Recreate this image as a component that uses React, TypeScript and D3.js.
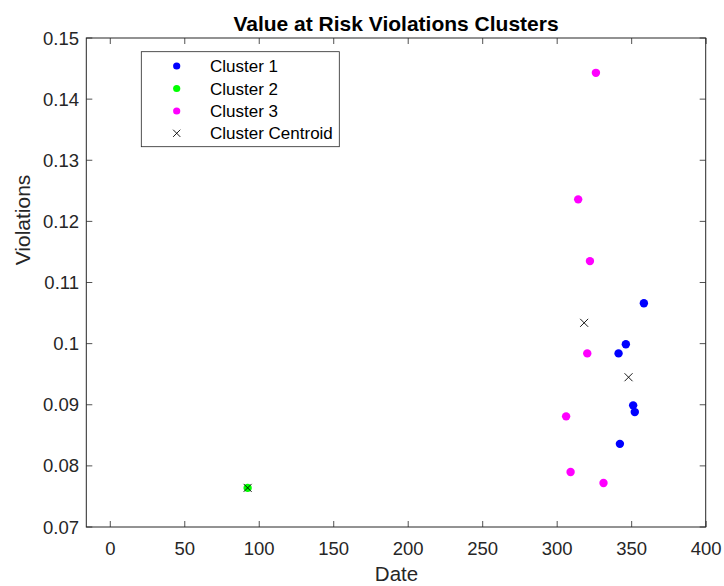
import React from "react";
import * as d3 from "d3";

const cluster1X = [358.2, 346.1, 341.2, 351.0, 352.1, 342.1];
const cluster1Y = [0.1066, 0.0999, 0.0984, 0.0899, 0.0888, 0.0836];
const cluster2X = [92.2];
const cluster2Y = [0.0764];
const cluster3X = [326.0, 314.1, 322.0, 320.2, 306.0, 309.0, 331.1];
const cluster3Y = [0.1443, 0.1236, 0.1135, 0.0984, 0.0881, 0.0790, 0.0772];
const centroidX = [318.1, 347.9, 92.2];
const centroidY = [0.1034, 0.0945, 0.0764];

const xTicks = [0, 50, 100, 150, 200, 250, 300, 350, 400];
const yTicks = [0.07, 0.08, 0.09, 0.1, 0.11, 0.12, 0.13, 0.14, 0.15];
const legendLabels = ["Cluster 1", "Cluster 2", "Cluster 3", "Cluster Centroid"];
const clusterColors = ["#0000ff", "#00ff00", "#ff00ff"];

const W = 724;
const H = 586;
const L = 86.3, R = 705.7, T = 38, B = 527;
const FONT = "'Liberation Sans', Arial, Helvetica, sans-serif";
const AX = "#262626";

export default function App() {
  const x = d3.scaleLinear().domain([-16.1, 399.7]).range([L, R]);
  const y = d3.scaleLinear().domain([0.07, 0.15]).range([B, T]);
  const clusters = [
    { xs: cluster1X, ys: cluster1Y },
    { xs: cluster2X, ys: cluster2Y },
    { xs: cluster3X, ys: cluster3Y },
  ];
  const fmt = (v: number) => String(+v.toFixed(2));
  const tk = 6;
  const cross = (cx: number, cy: number, s: number, key: string) => (
    <path key={key} d={`M${cx - s},${cy - s}L${cx + s},${cy + s}M${cx - s},${cy + s}L${cx + s},${cy - s}`} stroke="#000" strokeWidth={0.9} fill="none" />
  );
  const lx = 141.3, ly = 51.7, lw = 198, lh = 95;
  const rowY = [66, 88.5, 111, 133.3];
  return (
    <svg width={W} height={H} style={{ position: "absolute", left: 0, top: 0, background: "#fff" }} fontFamily={FONT}>
      <rect x={0} y={0} width={W} height={H} fill="#fff" />
      {xTicks.map((t) => (
        <g key={"xt" + t}>
          <line x1={x(t)} x2={x(t)} y1={B} y2={B - tk} stroke={AX} strokeWidth={0.8} />
          <line x1={x(t)} x2={x(t)} y1={T} y2={T + tk} stroke={AX} strokeWidth={0.8} />
          <text x={x(t)} y={555} textAnchor="middle" fontSize={18.5} fill={AX}>{t}</text>
        </g>
      ))}
      {yTicks.map((t) => (
        <g key={"yt" + t}>
          <line x1={L} x2={L + tk} y1={y(t)} y2={y(t)} stroke={AX} strokeWidth={0.8} />
          <line x1={R} x2={R - tk} y1={y(t)} y2={y(t)} stroke={AX} strokeWidth={0.8} />
          <text x={79} y={y(t) + 6.6} textAnchor="end" fontSize={18.5} fill={AX}>{fmt(t)}</text>
        </g>
      ))}
      <rect x={L} y={T} width={R - L} height={B - T} fill="none" stroke={AX} strokeWidth={1} />
      {clusters.map((c, i) =>
        c.xs.map((xv, j) => (
          <circle key={`c${i}-${j}`} cx={x(xv)} cy={y(c.ys[j])} r={4.2} fill={clusterColors[i]} />
        ))
      )}
      {centroidX.map((xv, j) => cross(x(xv), y(centroidY[j]), 4, "cen" + j))}
      <text x={(L + R) / 2} y={31} textAnchor="middle" fontSize={21} fontWeight="bold" fill="#000">Value at Risk Violations Clusters</text>
      <text x={396.5} y={581} textAnchor="middle" fontSize={20.5} fill={AX}>Date</text>
      <text transform={`translate(30,220) rotate(-90)`} textAnchor="middle" fontSize={21} fill={AX}>Violations</text>
      <rect x={lx} y={ly} width={lw} height={lh} fill="#fff" stroke={AX} strokeWidth={0.8} />
      {legendLabels.map((lab, i) => (
        <g key={"lg" + i}>
          {i < 3 ? (
            <circle cx={176.7} cy={rowY[i]} r={3.6} fill={clusterColors[i]} />
          ) : (
            cross(176.7, rowY[i], 3.6, "lgx")
          )}
          <text x={210} y={rowY[i] + 6} fontSize={17} fill="#000">{lab}</text>
        </g>
      ))}
    </svg>
  );
}
